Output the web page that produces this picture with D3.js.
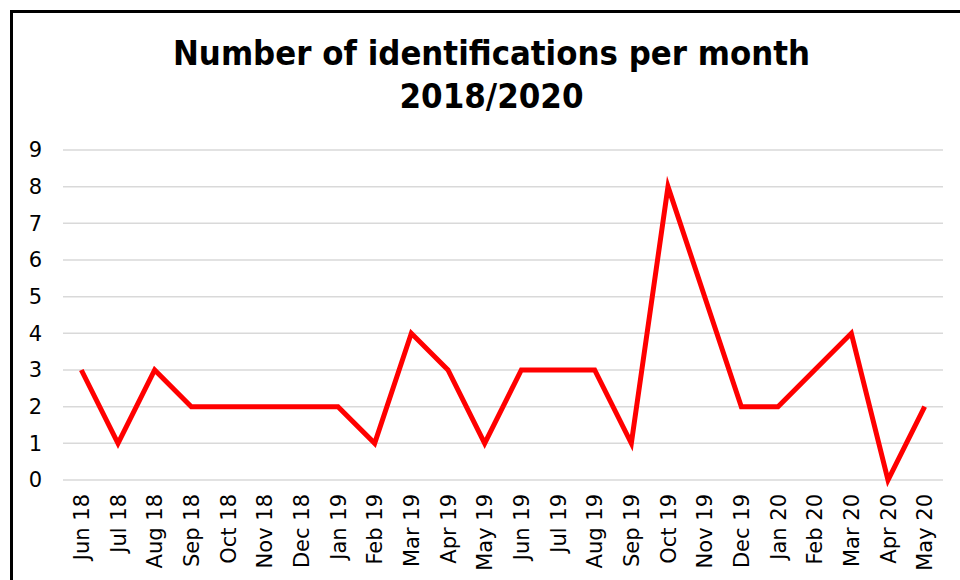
<!DOCTYPE html>
<html>
<head>
<meta charset="utf-8">
<script src="https://cdn.jsdelivr.net/npm/d3@7"></script>
<style>
  html, body { margin: 0; padding: 0; background: #fff; }
  svg { display: block; }
</style>
</head>
<body>
<svg id="chart" width="960" height="580"></svg>
<script>
const months = ["Jun 18","Jul 18","Aug 18","Sep 18","Oct 18","Nov 18","Dec 18","Jan 19","Feb 19","Mar 19","Apr 19","May 19","Jun 19","Jul 19","Aug 19","Sep 19","Oct 19","Nov 19","Dec 19","Jan 20","Feb 20","Mar 20","Apr 20","May 20"];
const counts = [3,1,3,2,2,2,2,2,1,4,3,1,3,3,3,1,8,5,2,2,3,4,0,2];
const yTicks = [0,1,2,3,4,5,6,7,8,9];
const titleLines = ["Number of identifications per month", "2018/2020"];

const svg = d3.select("#chart");
const W = 960, H = 580;
const plot = {left: 63, right: 943, top: 150, bottom: 480};

// outer border (extends past right/bottom edges)
svg.append("rect")
  .attr("x", 11.5).attr("y", 11.5)
  .attr("width", 1000).attr("height", 700)
  .attr("fill", "none").attr("stroke", "#000").attr("stroke-width", 3);

// title
const titleSizes = [637, 184];
svg.append("g").selectAll("text").data(titleLines).join("text")
  .attr("x", 491.5)
  .attr("y", (d, i) => 65 + i * 43)
  .attr("text-anchor", "middle")
  .attr("font-family", "'DejaVu Sans', sans-serif")
  .attr("font-weight", "bold")
  .attr("font-size", 33)
  .attr("textLength", (d, i) => titleSizes[i])
  .attr("lengthAdjust", "spacingAndGlyphs")
  .attr("fill", "#000")
  .text(d => d);

const x = d3.scaleBand().domain(months).range([plot.left, plot.right]);
const y = d3.scaleLinear().domain([0, 9]).range([plot.bottom, plot.top]);

// gridlines
svg.append("g").selectAll("line").data(yTicks).join("line")
  .attr("x1", plot.left).attr("x2", plot.right)
  .attr("y1", d => y(d)).attr("y2", d => y(d))
  .attr("stroke", "#d9d9d9").attr("stroke-width", 1.5);

// y axis
const yAxis = svg.append("g")
  .attr("transform", `translate(${plot.left},0)`)
  .call(d3.axisLeft(y).tickValues(yTicks).tickSize(0).tickPadding(21).tickFormat(d3.format("d")));
yAxis.select(".domain").remove();
yAxis.selectAll("text")
  .attr("font-family", "'DejaVu Sans', sans-serif")
  .attr("font-size", 21)
  .attr("fill", "#000");

// x axis
const xAxis = svg.append("g")
  .attr("transform", `translate(0,${plot.bottom})`)
  .call(d3.axisBottom(x).tickSize(0));
xAxis.select(".domain").remove();
xAxis.selectAll("text")
  .attr("font-family", "'DejaVu Sans', sans-serif")
  .attr("font-size", 21)
  .attr("fill", "#000")
  .attr("text-anchor", "end")
  .attr("transform", "rotate(-90)")
  .attr("x", -14)
  .attr("y", 0)
  .attr("dy", "0.36em");

// line
const line = d3.line()
  .x((d, i) => x(months[i]) + x.bandwidth() / 2)
  .y(d => y(d));
svg.append("path")
  .datum(counts)
  .attr("d", line)
  .attr("fill", "none")
  .attr("stroke", "#ff0000")
  .attr("stroke-width", 5)
  .attr("stroke-linejoin", "miter")
  .attr("stroke-miterlimit", 10);
</script>
</body>
</html>
